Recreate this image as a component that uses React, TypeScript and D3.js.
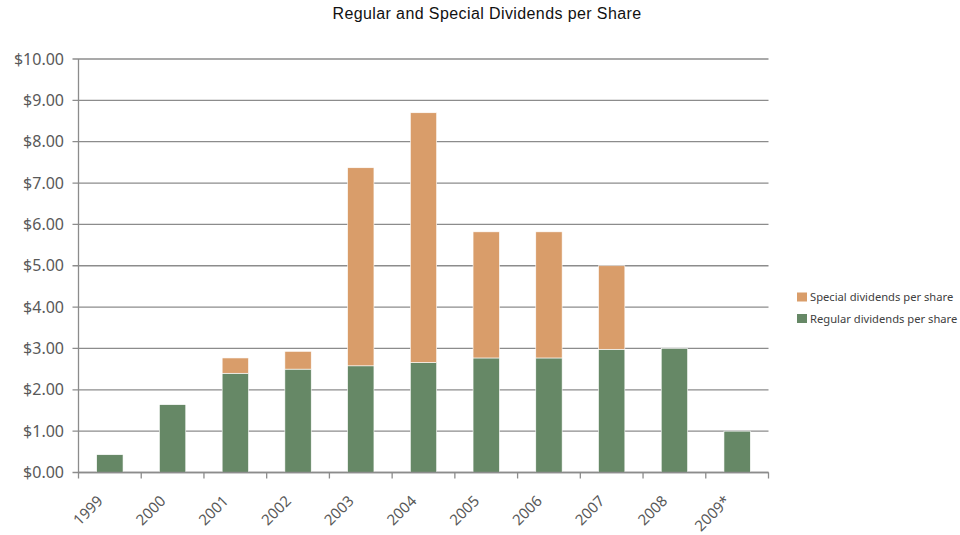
import React from "react";
import * as d3 from "d3";

const years = ["1999", "2000", "2001", "2002", "2003", "2004", "2005", "2006", "2007", "2008", "2009*"];
const regular = [0.43, 1.64, 2.4, 2.5, 2.58, 2.66, 2.77, 2.77, 2.98, 3.0, 1.0];
const special = [0, 0, 0.37, 0.43, 4.79, 6.04, 3.05, 3.05, 2.02, 0, 0];
const yTicks = [0, 1, 2, 3, 4, 5, 6, 7, 8, 9, 10];
const seriesNames = ["Special dividends per share", "Regular dividends per share"];
const seriesColors = ["#d99d6a", "#668866"];

const W = 960;
const H = 535;
const left = 78.5;
const right = 768.5;
const top = 59;
const bottom = 472.5;

const labelFont = "'Noto Sans', 'Open Sans', sans-serif";

export default function App() {
  const x = d3.scaleBand<string>().domain(years).range([left, right]).paddingInner(0.58).paddingOuter(0.29);
  const y = d3.scaleLinear().domain([0, 10]).range([bottom, top]);
  const step = (right - left) / years.length;

  const rows = years.map((yr, i) => ({ yr, regular: regular[i], special: special[i] }));
  const stacked = d3.stack<any>().keys(["regular", "special"])(rows);

  return (
    <svg width={W} height={H} style={{ position: "absolute", left: 0, top: 0, background: "#fff" }}>
      <text
        x={487}
        y={19}
        textAnchor="middle"
        fontFamily="'Liberation Sans', Arial, sans-serif"
        fontSize={16}
        letterSpacing={0.4}
        fill="#111"
      >
        Regular and Special Dividends per Share
      </text>

      {yTicks.map((t) => (
        <g key={t}>
          <line x1={left - 6} x2={right} y1={y(t)} y2={y(t)} stroke="#8c8c8c" strokeWidth={1.3} />
          <text x={64} y={y(t) + 5.5} textAnchor="end" fontFamily={labelFont} fontSize={16} fill="#595959">
            {d3.format("$.2f")(t)}
          </text>
        </g>
      ))}

      {stacked.map((layer, li) =>
        layer.map((d, i) =>
          d[1] - d[0] > 0 ? (
            <rect
              key={`${li}-${i}`}
              x={x(years[i])!}
              y={y(d[1])}
              width={x.bandwidth()}
              height={y(d[0]) - y(d[1])}
              fill={li === 0 ? seriesColors[1] : seriesColors[0]}
              stroke="#fff"
              strokeWidth={0.6}
            />
          ) : null
        )
      )}

      <line x1={left} x2={left} y1={top} y2={bottom} stroke="#8c8c8c" strokeWidth={1.3} />
      <line x1={left} x2={right} y1={bottom} y2={bottom} stroke="#8c8c8c" strokeWidth={1.3} />
      {d3.range(years.length + 1).map((i) => (
        <line key={i} x1={left + i * step} x2={left + i * step} y1={bottom} y2={bottom + 6} stroke="#8c8c8c" strokeWidth={1.3} />
      ))}

      {years.map((yr) => {
        const cx = x(yr)! + x.bandwidth() / 2 - 6;
        const cy = bottom + 29.5;
        return (
          <text
            key={yr}
            x={cx}
            y={cy}
            textAnchor="end"
            transform={`rotate(-45 ${cx} ${cy})`}
            fontFamily={labelFont}
            fontSize={15}
            fill="#595959"
          >
            {yr}
          </text>
        );
      })}

      {seriesNames.map((name, i) => (
        <g key={name} transform={`translate(797, ${292.5 + i * 21.5})`}>
          <rect x={0} y={0} width={10} height={9} fill={seriesColors[i]} />
          <text x={13} y={8.8} fontFamily={labelFont} fontSize={11.2} fill="#404040">
            {name}
          </text>
        </g>
      ))}
    </svg>
  );
}
